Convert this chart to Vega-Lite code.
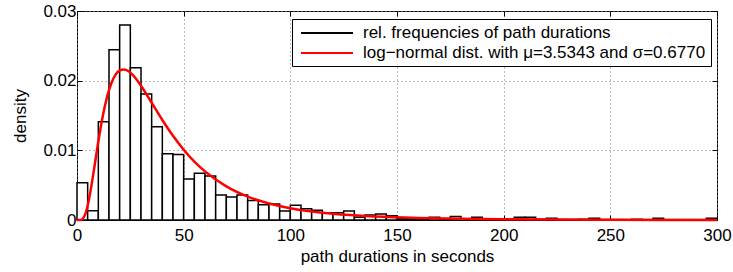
{
  "$schema": "https://vega.github.io/schema/vega-lite/v6.json",
  "width": 640,
  "height": 209,
  "autosize": {"type": "none"},
  "padding": {"left": 77, "top": 11, "right": 16, "bottom": 52},
  "background": "white",
  "config": {
    "font": "Liberation Sans",
    "view": {"stroke": "black", "strokeWidth": 1},
    "axis": {
      "labelFont": "Liberation Sans",
      "titleFont": "Liberation Sans",
      "labelFontSize": 17,
      "titleFontSize": 17,
      "labelColor": "black",
      "titleColor": "black",
      "titleFontWeight": "normal",
      "domain": false,
      "tickColor": "black",
      "tickSize": -5,
      "gridColor": "#777777",
      "gridDash": [1, 3],
      "gridWidth": 1
    },
    "legend": {
      "labelFont": "Liberation Sans",
      "labelFontSize": 17,
      "labelColor": "black"
    }
  },
  "resolve": {"axis": {"x": "independent", "y": "independent"}},
  "datasets": {
    "bars": [
      {"start": 0, "end": 5, "density": 0.00535, "series": "rel. frequencies of path durations"},
      {"start": 5, "end": 10, "density": 0.00134, "series": "rel. frequencies of path durations"},
      {"start": 10, "end": 15, "density": 0.0141, "series": "rel. frequencies of path durations"},
      {"start": 15, "end": 20, "density": 0.02445, "series": "rel. frequencies of path durations"},
      {"start": 20, "end": 25, "density": 0.0280, "series": "rel. frequencies of path durations"},
      {"start": 25, "end": 30, "density": 0.02187, "series": "rel. frequencies of path durations"},
      {"start": 30, "end": 35, "density": 0.0181, "series": "rel. frequencies of path durations"},
      {"start": 35, "end": 40, "density": 0.01337, "series": "rel. frequencies of path durations"},
      {"start": 40, "end": 45, "density": 0.0095, "series": "rel. frequencies of path durations"},
      {"start": 45, "end": 50, "density": 0.0094, "series": "rel. frequencies of path durations"},
      {"start": 50, "end": 55, "density": 0.0059, "series": "rel. frequencies of path durations"},
      {"start": 55, "end": 60, "density": 0.0067, "series": "rel. frequencies of path durations"},
      {"start": 60, "end": 65, "density": 0.0063, "series": "rel. frequencies of path durations"},
      {"start": 65, "end": 70, "density": 0.0036, "series": "rel. frequencies of path durations"},
      {"start": 70, "end": 75, "density": 0.0033, "series": "rel. frequencies of path durations"},
      {"start": 75, "end": 80, "density": 0.0036, "series": "rel. frequencies of path durations"},
      {"start": 80, "end": 85, "density": 0.0028, "series": "rel. frequencies of path durations"},
      {"start": 85, "end": 90, "density": 0.0022, "series": "rel. frequencies of path durations"},
      {"start": 90, "end": 95, "density": 0.0023, "series": "rel. frequencies of path durations"},
      {"start": 95, "end": 100, "density": 0.0013, "series": "rel. frequencies of path durations"},
      {"start": 100, "end": 105, "density": 0.0021, "series": "rel. frequencies of path durations"},
      {"start": 105, "end": 110, "density": 0.0016, "series": "rel. frequencies of path durations"},
      {"start": 110, "end": 115, "density": 0.0014, "series": "rel. frequencies of path durations"},
      {"start": 115, "end": 120, "density": 0.00105, "series": "rel. frequencies of path durations"},
      {"start": 120, "end": 125, "density": 0.00105, "series": "rel. frequencies of path durations"},
      {"start": 125, "end": 130, "density": 0.0013, "series": "rel. frequencies of path durations"},
      {"start": 130, "end": 135, "density": 0.0004, "series": "rel. frequencies of path durations"},
      {"start": 135, "end": 140, "density": 0.0007, "series": "rel. frequencies of path durations"},
      {"start": 140, "end": 145, "density": 0.00086, "series": "rel. frequencies of path durations"},
      {"start": 145, "end": 150, "density": 0.0006, "series": "rel. frequencies of path durations"},
      {"start": 150, "end": 155, "density": 0.0002, "series": "rel. frequencies of path durations"},
      {"start": 155, "end": 160, "density": 0.00015, "series": "rel. frequencies of path durations"},
      {"start": 160, "end": 165, "density": 0.0002, "series": "rel. frequencies of path durations"},
      {"start": 165, "end": 170, "density": 0.0004, "series": "rel. frequencies of path durations"},
      {"start": 170, "end": 175, "density": 0.00015, "series": "rel. frequencies of path durations"},
      {"start": 175, "end": 180, "density": 0.0005, "series": "rel. frequencies of path durations"},
      {"start": 180, "end": 185, "density": 0.0001, "series": "rel. frequencies of path durations"},
      {"start": 185, "end": 190, "density": 0.0004, "series": "rel. frequencies of path durations"},
      {"start": 190, "end": 195, "density": 0.0001, "series": "rel. frequencies of path durations"},
      {"start": 195, "end": 200, "density": 0.0001, "series": "rel. frequencies of path durations"},
      {"start": 200, "end": 205, "density": 0.0001, "series": "rel. frequencies of path durations"},
      {"start": 205, "end": 210, "density": 0.0004, "series": "rel. frequencies of path durations"},
      {"start": 210, "end": 215, "density": 0.0004, "series": "rel. frequencies of path durations"},
      {"start": 215, "end": 220, "density": 0.0001, "series": "rel. frequencies of path durations"},
      {"start": 220, "end": 225, "density": 0.00025, "series": "rel. frequencies of path durations"},
      {"start": 225, "end": 230, "density": 0.00005, "series": "rel. frequencies of path durations"},
      {"start": 230, "end": 235, "density": 0.00005, "series": "rel. frequencies of path durations"},
      {"start": 235, "end": 240, "density": 0.0001, "series": "rel. frequencies of path durations"},
      {"start": 240, "end": 245, "density": 0.00025, "series": "rel. frequencies of path durations"},
      {"start": 245, "end": 250, "density": 0.00005, "series": "rel. frequencies of path durations"},
      {"start": 250, "end": 255, "density": 0.00005, "series": "rel. frequencies of path durations"},
      {"start": 255, "end": 260, "density": 0.00005, "series": "rel. frequencies of path durations"},
      {"start": 260, "end": 265, "density": 0.0001, "series": "rel. frequencies of path durations"},
      {"start": 265, "end": 270, "density": 0.00005, "series": "rel. frequencies of path durations"},
      {"start": 270, "end": 275, "density": 0.00025, "series": "rel. frequencies of path durations"},
      {"start": 275, "end": 280, "density": 0.00005, "series": "rel. frequencies of path durations"},
      {"start": 280, "end": 285, "density": 0.00005, "series": "rel. frequencies of path durations"},
      {"start": 285, "end": 290, "density": 0.00005, "series": "rel. frequencies of path durations"},
      {"start": 290, "end": 295, "density": 0.00005, "series": "rel. frequencies of path durations"},
      {"start": 295, "end": 300, "density": 0.00025, "series": "rel. frequencies of path durations"}
    ],
    "curve": [
      {"x": 0, "f": 0, "series": "log−normal dist. with μ=3.5343 and σ=0.6770"},
      {"x": 1, "f": 0.0000007, "series": "log−normal dist. with μ=3.5343 and σ=0.6770"},
      {"x": 2, "f": 0.000044, "series": "log−normal dist. with μ=3.5343 and σ=0.6770"},
      {"x": 3, "f": 0.000304, "series": "log−normal dist. with μ=3.5343 and σ=0.6770"},
      {"x": 4, "f": 0.00096, "series": "log−normal dist. with μ=3.5343 and σ=0.6770"},
      {"x": 5, "f": 0.00207, "series": "log−normal dist. with μ=3.5343 and σ=0.6770"},
      {"x": 6, "f": 0.00358, "series": "log−normal dist. with μ=3.5343 and σ=0.6770"},
      {"x": 7, "f": 0.00537, "series": "log−normal dist. with μ=3.5343 and σ=0.6770"},
      {"x": 8, "f": 0.00732, "series": "log−normal dist. with μ=3.5343 and σ=0.6770"},
      {"x": 10, "f": 0.01126, "series": "log−normal dist. with μ=3.5343 and σ=0.6770"},
      {"x": 12, "f": 0.01477, "series": "log−normal dist. with μ=3.5343 and σ=0.6770"},
      {"x": 14, "f": 0.01756, "series": "log−normal dist. with μ=3.5343 and σ=0.6770"},
      {"x": 16, "f": 0.01956, "series": "log−normal dist. with μ=3.5343 and σ=0.6770"},
      {"x": 18, "f": 0.02083, "series": "log−normal dist. with μ=3.5343 and σ=0.6770"},
      {"x": 20, "f": 0.02147, "series": "log−normal dist. with μ=3.5343 and σ=0.6770"},
      {"x": 22, "f": 0.02162, "series": "log−normal dist. with μ=3.5343 and σ=0.6770"},
      {"x": 24, "f": 0.02138, "series": "log−normal dist. with μ=3.5343 and σ=0.6770"},
      {"x": 26, "f": 0.02085, "series": "log−normal dist. with μ=3.5343 and σ=0.6770"},
      {"x": 28, "f": 0.02013, "series": "log−normal dist. with μ=3.5343 and σ=0.6770"},
      {"x": 30, "f": 0.01927, "series": "log−normal dist. with μ=3.5343 and σ=0.6770"},
      {"x": 35, "f": 0.01683, "series": "log−normal dist. with μ=3.5343 and σ=0.6770"},
      {"x": 40, "f": 0.01435, "series": "log−normal dist. with μ=3.5343 and σ=0.6770"},
      {"x": 45, "f": 0.01208, "series": "log−normal dist. with μ=3.5343 and σ=0.6770"},
      {"x": 50, "f": 0.01009, "series": "log−normal dist. with μ=3.5343 and σ=0.6770"},
      {"x": 55, "f": 0.00839, "series": "log−normal dist. with μ=3.5343 and σ=0.6770"},
      {"x": 60, "f": 0.00698, "series": "log−normal dist. with μ=3.5343 and σ=0.6770"},
      {"x": 70, "f": 0.00483, "series": "log−normal dist. with μ=3.5343 and σ=0.6770"},
      {"x": 80, "f": 0.00336, "series": "log−normal dist. with μ=3.5343 and σ=0.6770"},
      {"x": 90, "f": 0.002368, "series": "log−normal dist. with μ=3.5343 and σ=0.6770"},
      {"x": 100, "f": 0.001687, "series": "log−normal dist. with μ=3.5343 and σ=0.6770"},
      {"x": 120, "f": 0.000885, "series": "log−normal dist. with μ=3.5343 and σ=0.6770"},
      {"x": 140, "f": 0.000485, "series": "log−normal dist. with μ=3.5343 and σ=0.6770"},
      {"x": 160, "f": 0.000276, "series": "log−normal dist. with μ=3.5343 and σ=0.6770"},
      {"x": 180, "f": 0.000163, "series": "log−normal dist. with μ=3.5343 and σ=0.6770"},
      {"x": 200, "f": 0.000099, "series": "log−normal dist. with μ=3.5343 and σ=0.6770"},
      {"x": 250, "f": 0.000032, "series": "log−normal dist. with μ=3.5343 and σ=0.6770"},
      {"x": 300, "f": 0.0000116, "series": "log−normal dist. with μ=3.5343 and σ=0.6770"}
    ]
  },
  "layer": [
    {
      "data": {"name": "bars"},
      "mark": {"type": "rect", "fill": "white", "strokeWidth": 1.5},
      "encoding": {
        "x": {
          "field": "start", "type": "quantitative",
          "scale": {"domain": [0, 300], "nice": false},
          "axis": {
            "values": [0, 50, 100, 150, 200, 250, 300],
            "grid": true,
            "title": "path durations in seconds",
            "labelPadding": 12,
            "titlePadding": 5,
            "labelFlush": false
          }
        },
        "x2": {"field": "end"},
        "y": {
          "field": "density", "type": "quantitative",
          "scale": {"domain": [0, 0.03], "nice": false},
          "axis": {
            "values": [0, 0.01, 0.02, 0.03],
            "grid": true,
            "title": "density",
            "labelExpr": "datum.value == 0 ? '0' : format(datum.value, '.2f')",
            "labelPadding": 6,
            "titlePadding": 13,
            "labelFlush": false
          }
        },
        "y2": {"datum": 0},
        "stroke": {
          "field": "series", "type": "nominal",
          "scale": {
            "domain": ["rel. frequencies of path durations", "log−normal dist. with μ=3.5343 and σ=0.6770"],
            "range": ["black", "#ff0000"]
          },
          "legend": {
            "title": null,
            "orient": "none",
            "legendX": 215,
            "legendY": 8,
            "symbolType": "M-3.25,0H3.25",
            "symbolSize": 256,
            "symbolStrokeWidth": 2,
            "symbolOffset": 21,
            "strokeColor": "black",
            "fillColor": "white",
            "padding": 5,
            "rowPadding": 3,
            "labelOffset": 27,
            "labelLimit": 600
          }
        }
      }
    },
    {
      "data": {"name": "curve"},
      "mark": {"type": "line", "strokeWidth": 2.5, "interpolate": "monotone"},
      "encoding": {
        "x": {
          "field": "x", "type": "quantitative",
          "axis": {"orient": "top", "values": [0, 50, 100, 150, 200, 250, 300], "labels": false, "grid": false, "title": null}
        },
        "y": {
          "field": "f", "type": "quantitative",
          "axis": {"orient": "right", "values": [0, 0.01, 0.02, 0.03], "labels": false, "grid": false, "title": null}
        },
        "stroke": {"field": "series", "type": "nominal"}
      }
    }
  ]
}
